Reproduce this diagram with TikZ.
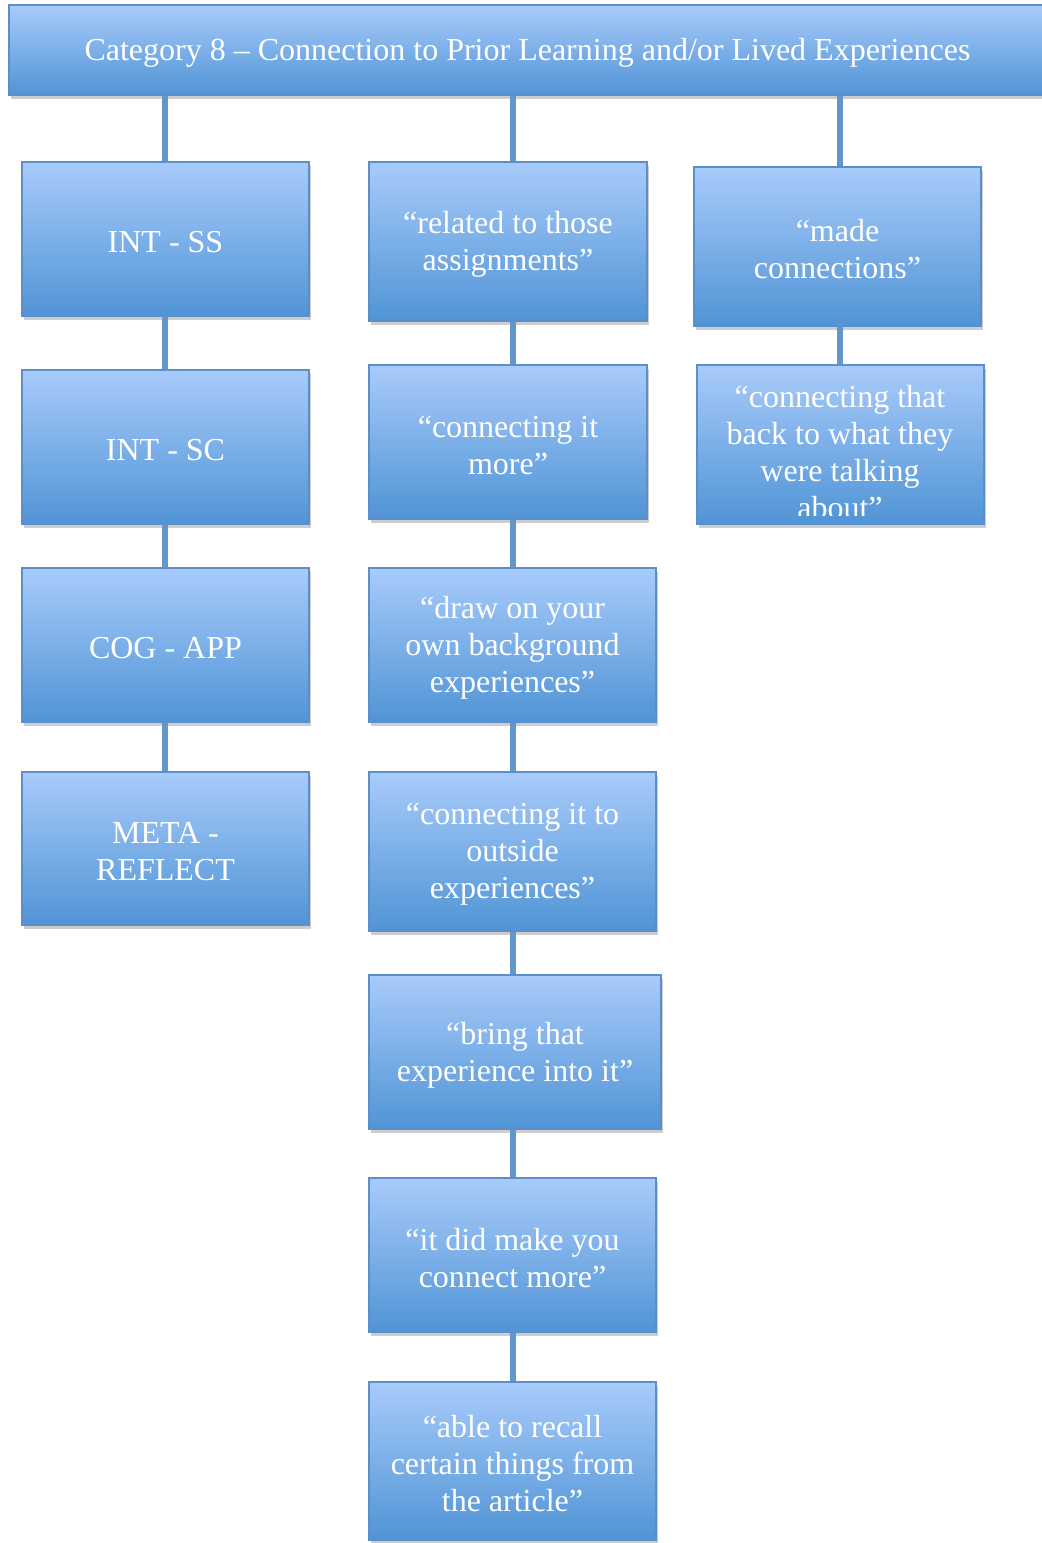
\documentclass[tikz,border=0pt]{standalone}
\usepackage{fontspec}
\setmainfont{Liberation Serif}
\usetikzlibrary{shadows}
\definecolor{boxtop}{HTML}{A8CBFA}
\definecolor{boxbot}{HTML}{5094D6}
\definecolor{boxedge}{HTML}{5C8FC8}
\definecolor{linkblue}{HTML}{6197CA}
\tikzset{
  box/.style={rectangle, draw=boxedge, line width=1.5pt, top color=boxtop, bottom color=boxbot,
    drop shadow={shadow xshift=2pt, shadow yshift=-4pt, opacity=0.28, fill=black!70},
    inner sep=0pt},
  txt/.style={text=white, align=center, inner sep=0pt, yshift=-3pt,
    font=\fontsize{32}{37}\selectfont},
  link/.style={draw=linkblue, line width=5.5pt},
}
\begin{document}
\begin{tikzpicture}[x=1pt, y=-1pt]
\useasboundingbox (0,0) rectangle (1042,1543);
% column axes for the connectors
\coordinate (cL) at (165,0);
\coordinate (cM) at (513,0);
\coordinate (cR) at (840,0);

% header
\node[box, minimum width=1037pt, minimum height=90pt] (top) at (527.5,50) {};
\node[txt] (topt) at (top.center) {Category 8 -- Connection to Prior Learning and/or Lived Experiences};

% left column
\node[box, minimum width=287pt, minimum height=154pt] (l1) at (165.5,239) {};
\node[box, minimum width=287pt, minimum height=154pt] (l2) at (165.5,447) {};
\node[box, minimum width=287pt, minimum height=154pt] (l3) at (165.5,645) {};
\node[box, minimum width=287pt, minimum height=153pt] (l4) at (165.5,848.5) {};
\node[txt] (l1t) at (l1.center) {INT - SS};
\node[txt] (l2t) at (l2.center) {INT - SC};
\node[txt] (l3t) at (l3.center) {COG - APP};
\node[txt] (l4t) at (l4.center) {META -\\REFLECT};

% middle column
\node[box, minimum width=278pt, minimum height=159pt] (m1) at (508,241.5) {};
\node[box, minimum width=278pt, minimum height=154pt] (m2) at (508,442) {};
\node[box, minimum width=287pt, minimum height=154pt] (m3) at (512.5,645) {};
\node[box, minimum width=287pt, minimum height=159pt] (m4) at (512.5,851.5) {};
\node[box, minimum width=292pt, minimum height=154pt] (m5) at (515,1052) {};
\node[box, minimum width=287pt, minimum height=154pt] (m6) at (512.5,1255) {};
\node[box, minimum width=287pt, minimum height=158pt] (m7) at (512.5,1461) {};
\node[txt] (m1t) at (m1.center) {“related to those\\assignments”};
\node[txt] (m2t) at (m2.center) {“connecting it\\more”};
\node[txt] (m3t) at (m3.center) {“draw on your\\own background\\experiences”};
\node[txt] (m4t) at (m4.center) {“connecting it to\\outside\\experiences”};
\node[txt] (m5t) at (m5.center) {“bring that\\experience into it”};
\node[txt] (m6t) at (m6.center) {“it did make you\\connect more”};
\node[txt] (m7t) at (m7.center) {“able to recall\\certain things from\\the article”};

% right column
\node[box, minimum width=287pt, minimum height=159pt] (r1) at (837.5,246.5) {};
\node[box, minimum width=287pt, minimum height=159pt] (r2) at (840.5,444.5) {};
\node[txt] (r1t) at (r1.center) {“made\\connections”};
% the last quotation overflows its box and is cut off near the bottom edge
\begin{scope}
  \clip (697,366) rectangle (984,515);
  \node[txt] (r2t) at (840,449) {“connecting that\\back to what they\\were talking\\about”};
\end{scope}

% connectors
\draw[link] (top.south -| cL) -- (l1.north -| cL);
\draw[link] (l1.south -| cL) -- (l2.north -| cL);
\draw[link] (l2.south -| cL) -- (l3.north -| cL);
\draw[link] (l3.south -| cL) -- (l4.north -| cL);
\draw[link] (top.south -| cM) -- (m1.north -| cM);
\draw[link] (m1.south -| cM) -- (m2.north -| cM);
\draw[link] (m2.south -| cM) -- (m3.north -| cM);
\draw[link] (m3.south -| cM) -- (m4.north -| cM);
\draw[link] (m4.south -| cM) -- (m5.north -| cM);
\draw[link] (m5.south -| cM) -- (m6.north -| cM);
\draw[link] (m6.south -| cM) -- (m7.north -| cM);
\draw[link] (top.south -| cR) -- (r1.north -| cR);
\draw[link] (r1.south -| cR) -- (r2.north -| cR);
\end{tikzpicture}
\end{document}
